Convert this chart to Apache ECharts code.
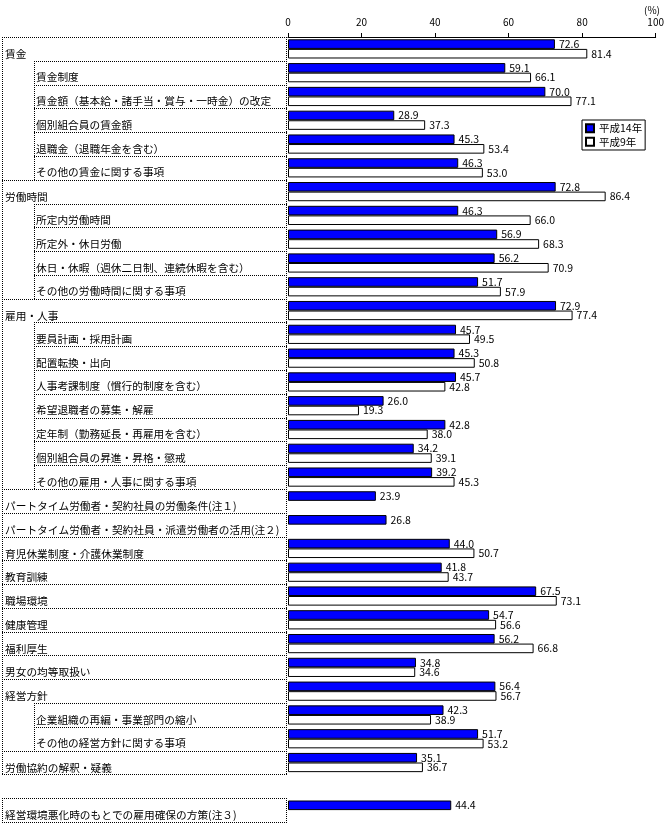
<!DOCTYPE html>
<html><head><meta charset="utf-8">
<script src="https://cdn.jsdelivr.net/npm/echarts@6/dist/echarts.min.js"></script>
<style>html,body{margin:0;padding:0;background:#fff}#main{width:667px;height:824px}</style>
</head><body><div id="main"></div>
<script>
const categories = [
 '賃金','賃金制度','賃金額（基本給・諸手当・賞与・一時金）の改定','個別組合員の賃金額','退職金（退職年金を含む）','その他の賃金に関する事項',
 '労働時間','所定内労働時間','所定外・休日労働','休日・休暇（週休二日制、連続休暇を含む）','その他の労働時間に関する事項',
 '雇用・人事','要員計画・採用計画','配置転換・出向','人事考課制度（慣行的制度を含む）','希望退職者の募集・解雇','定年制（勤務延長・再雇用を含む）','個別組合員の昇進・昇格・懲戒','その他の雇用・人事に関する事項',
 'パートタイム労働者・契約社員の労働条件(注１)','パートタイム労働者・契約社員・派遣労働者の活用(注２)',
 '育児休業制度・介護休業制度','教育訓練','職場環境','健康管理','福利厚生','男女の均等取扱い',
 '経営方針','企業組織の再編・事業部門の縮小','その他の経営方針に関する事項','労働協約の解釈・疑義',
 '','経営環境悪化時のもとでの雇用確保の方策(注３)'
];
// 0 = top-level item, 1 = sub-item, -1 = blank spacer row
const levels = [0,1,1,1,1,1, 0,1,1,1,1, 0,1,1,1,1,1,1,1, 0,0, 0,0,0,0,0,0, 0,1,1,0, -1,0];
const h14 = [72.6,59.1,70.0,28.9,45.3,46.3, 72.8,46.3,56.9,56.2,51.7, 72.9,45.7,45.3,45.7,26.0,42.8,34.2,39.2, 23.9,26.8, 44.0,41.8,67.5,54.7,56.2,34.8, 56.4,42.3,51.7,35.1, null,44.4];
const h9  = [81.4,66.1,77.1,37.3,53.4,53.0, 86.4,66.0,68.3,70.9,57.9, 77.4,49.5,50.8,42.8,19.3,38.0,39.1,45.3, null,null, 50.7,43.7,73.1,56.6,66.8,34.6, 56.7,38.9,53.2,36.7, null,null];
const xTicks = [0,20,40,60,80,100];
const seriesNames = ['平成14年','平成9年'];

const FONT = '"Noto Sans CJK JP", sans-serif';
const chart = echarts.init(document.getElementById('main'));
const labelStyle = {show:true, position:'right', distance:4, color:'#000', fontSize:10.5, fontFamily:FONT,
  formatter: p => (p.value == null ? '' : Number(p.value).toFixed(1))};
const option = {
  animation:false,
  backgroundColor:'#fff',
  textStyle:{fontFamily:FONT},
  title:{text:'(%)', right:2, top:0, textStyle:{fontSize:10, fontWeight:'normal', color:'#000', fontFamily:FONT}},
  legend:{
    data:seriesNames, orient:'vertical', left:582, top:120,
    padding:[3,3,3,3], itemGap:3, itemWidth:8, itemHeight:8, icon:'rect',
    borderColor:'#000', borderWidth:1, backgroundColor:'#fff',
    textStyle:{fontSize:10.5, color:'#000', fontFamily:FONT}
  },
  grid:{left:288, right:9, top:37, bottom:2, containLabel:false},
  xAxis:{
    type:'value', position:'top', min:0, max:100, interval:20,
    axisLine:{show:true, lineStyle:{color:'#000', width:1}},
    axisTick:{show:true, length:4, lineStyle:{color:'#000'}},
    axisLabel:{color:'#000', fontSize:10, margin:10, fontFamily:FONT,
      formatter: v => (xTicks.indexOf(v) >= 0 ? String(v) : '')},
    splitLine:{show:false}
  },
  yAxis:{
    type:'category', inverse:true, data:categories,
    axisLine:{show:false}, axisTick:{show:false},
    axisLabel:{
      interval:0, align:'left', margin:283, color:'#000',
      formatter:(v, i) => (levels[i] === 1 ? '{sub|' + v + '}' : '{top|' + v + '}'),
      rich:{
        top:{fontSize:10.7, color:'#000', fontFamily:FONT, padding:[10,0,0,0]},
        sub:{fontSize:10.7, color:'#000', fontFamily:FONT, padding:[9,0,0,31]}
      }
    }
  },
  series:[
    {name:seriesNames[0], type:'bar', data:h14, barWidth:9.6, barGap:'0%',
     itemStyle:{color:'#0000FF', borderColor:'#000', borderWidth:1}, label:labelStyle},
    {name:seriesNames[1], type:'bar', data:h9, barWidth:9.6, barGap:'0%',
     itemStyle:{color:'#FFFFFF', borderColor:'#000', borderWidth:1}, label:labelStyle}
  ]
};
chart.setOption(option);

// dotted table frame on the left, positioned from the category axis
const yc = i => chart.convertToPixel({yAxisIndex:0}, i);
const band = yc(1) - yc(0);
const rowTop = i => Math.round(yc(0) - band/2 + i*band);
const xR = Math.round(chart.convertToPixel({xAxisIndex:0}, 0)) - 2;
const xL = 2, xS = 34;
const dash = {stroke:'#000', lineWidth:1, lineDash:[1,1]};
const els = [];
// horizontal: integer x, half-pixel y ; vertical: half-pixel x, integer y
const hline = (x1,x2,y) => els.push({type:'line', silent:true, z:10, shape:{x1:x1, y1:y+0.5, x2:x2+1, y2:y+0.5}, style:dash});
const vline = (x,y1,y2) => els.push({type:'line', silent:true, z:10, shape:{x1:x+0.5, y1:y1, x2:x+0.5, y2:y2+1}, style:dash});
let blocks = [], s = null;
levels.forEach((lv,i) => {
  if (lv >= 0 && s === null) s = i;
  if ((lv < 0 || i === levels.length-1) && s !== null) { blocks.push([s, lv < 0 ? i-1 : i]); s = null; }
});
blocks.forEach(([a,b]) => {
  vline(xL, rowTop(a), rowTop(b+1));
  vline(xR, rowTop(a), rowTop(b+1));
  for (let i=a;i<=b;i++) hline(levels[i]===1 ? xS : xL, xR, rowTop(i));
  hline(xL, xR, rowTop(b+1));
  let r = null;
  for (let i=a;i<=b+1;i++) {
    const sub = i<=b && levels[i]===1;
    if (sub && r===null) r = i;
    if (!sub && r!==null) { vline(xS, rowTop(r), rowTop(i)); r = null; }
  }
});
chart.setOption({graphic:{elements:els}});
</script></body></html>
